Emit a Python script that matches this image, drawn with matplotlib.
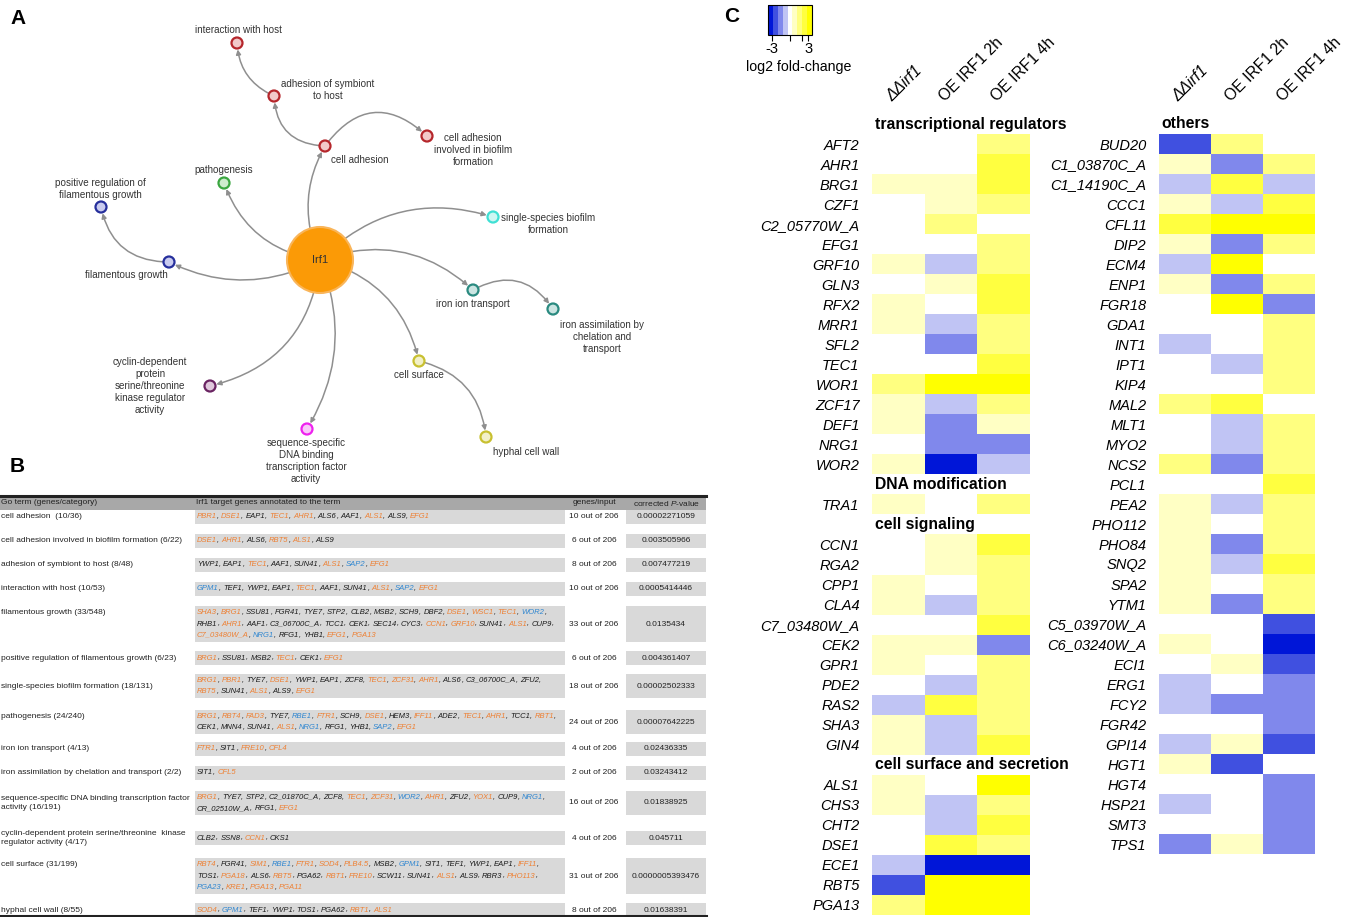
import numpy as np
import matplotlib
matplotlib.use("Agg")
import matplotlib.pyplot as plt
from matplotlib import font_manager
from matplotlib.colors import ListedColormap, BoundaryNorm
from matplotlib.cm import ScalarMappable
from matplotlib.patches import Circle, FancyArrowPatch, Rectangle

plt.rcParams['font.family'] = ['Liberation Sans', 'DejaVu Sans']
plt.rcParams['mathtext.fontset'] = 'custom'
plt.rcParams['mathtext.it'] = 'Liberation Sans:italic'
plt.rcParams['mathtext.rm'] = 'Liberation Sans'

W, H = 1345, 917

# ---------------- data: GO network (panel A)
go_edges = [
    ("Irf1", "cell adhesion"),
    ("cell adhesion", "adhesion of symbiont\nto host"),
    ("adhesion of symbiont\nto host", "interaction with host"),
    ("cell adhesion", "cell adhesion\ninvolved in biofilm\nformation"),
    ("Irf1", "pathogenesis"),
    ("Irf1", "filamentous growth"),
    ("filamentous growth", "positive regulation of\nfilamentous growth"),
    ("Irf1", "single-species biofilm\nformation"),
    ("Irf1", "iron ion transport"),
    ("iron ion transport", "iron assimilation by\nchelation and\ntransport"),
    ("Irf1", "cell surface"),
    ("cell surface", "hyphal cell wall"),
    ("Irf1", "cyclin-dependent\nprotein\nserine/threonine\nkinase regulator\nactivity"),
    ("Irf1", "sequence-specific\nDNA binding\ntranscription factor\nactivity"),
]

# ---------------- data: GO table (panel B)
go_terms = [
    "cell adhesion  (10/36)",
    "cell adhesion involved in biofilm formation (6/22)",
    "adhesion of symbiont to host (8/48)",
    "interaction with host (10/53)",
    "filamentous growth (33/548)",
    "positive regulation of filamentous growth (6/23)",
    "single-species biofilm formation (18/131)",
    "pathogenesis (24/240)",
    "iron ion transport (4/13)",
    "iron assimilation by chelation and transport (2/2)",
    "sequence-specific DNA binding transcription factor\nactivity (16/191)",
    "cyclin-dependent protein serine/threonine  kinase\nregulator activity (4/17)",
    "cell surface (31/199)",
    "hyphal cell wall (8/55)",
]
go_genes = [
    ["PBR1, DSE1, EAP1, TEC1, AHR1, ALS6, AAF1, ALS1, ALS9, EFG1"],
    ["DSE1, AHR1, ALS6, RBT5, ALS1, ALS9"],
    ["YWP1, EAP1, TEC1, AAF1, SUN41, ALS1, SAP2, EFG1"],
    ["GPM1, TEF1, YWP1, EAP1, TEC1, AAF1, SUN41, ALS1, SAP2, EFG1"],
    ["SHA3, BRG1, SSU81, FGR41, TYE7, STP2, CLB2, MSB2, SCH9, DBF2, DSE1, WSC1, TEC1, WOR2,",
     "RHB1, AHR1, AAF1, C3_06700C_A, TCC1, CEK1, SEC14, CYC3, CCN1, GRF10, SUN41, ALS1, CUP9,",
     "C7_03480W_A, NRG1, RFG1, YHB1, EFG1, PGA13"],
    ["BRG1, SSU81, MSB2, TEC1, CEK1, EFG1"],
    ["BRG1, PBR1, TYE7, DSE1, YWP1, EAP1, ZCF8, TEC1, ZCF31, AHR1, ALS6, C3_06700C_A, ZFU2,",
     "RBT5, SUN41, ALS1, ALS9, EFG1"],
    ["BRG1, RBT4, FAD3, TYE7, RBE1, FTR1, SCH9, DSE1, HEM3, IFF11, ADE2, TEC1, AHR1, TCC1, RBT1,",
     "CEK1, MNN4, SUN41, ALS1, NRG1, RFG1, YHB1, SAP2, EFG1"],
    ["FTR1, SIT1, FRE10, CFL4"],
    ["SIT1, CFL5"],
    ["BRG1, TYE7, STP2, C2_01870C_A, ZCF8, TEC1, ZCF31, WOR2, AHR1, ZFU2, YOX1, CUP9, NRG1,",
     "CR_02510W_A, RFG1, EFG1"],
    ["CLB2, SSN8, CCN1, CKS1"],
    ["RBT4, FGR41, SIM1, RBE1, FTR1, SOD4, PLB4.5, MSB2, GPM1, SIT1, TEF1, YWP1, EAP1, IFF11,",
     "TOS1, PGA18, ALS6, RBT5, PGA62, RBT1, FRE10, SCW11, SUN41, ALS1, ALS9, RBR3, PHO113,",
     "PGA23, KRE1, PGA13, PGA11"],
    ["SOD4, GPM1, TEF1, YWP1, TOS1, PGA62, RBT1, ALS1"],
]
go_hits = [10, 6, 8, 10, 33, 6, 18, 24, 4, 2, 16, 4, 31, 8]
go_input = 206
go_pvals = ["0.00002271059", "0.003505966", "0.007477219", "0.0005414446", "0.0135434",
            "0.004361407", "0.00002502333", "0.00007642225", "0.02436335", "0.03243412",
            "0.01838925", "0.045711", "0.0000005393476", "0.01638391"]
up_genes = {"PBR1", "DSE1", "TEC1", "AHR1", "ALS1", "EFG1", "RBT5", "SHA3", "BRG1", "WSC1",
            "CCN1", "GRF10", "C7_03480W_A", "PGA13", "ZCF31", "RBT4", "FAD3", "FTR1", "IFF11",
            "RBT1", "FRE10", "CFL4", "CFL5", "YOX1", "SIM1", "SOD4", "PLB4.5", "PGA18",
            "PHO113", "KRE1", "PGA11"}
down_genes = {"GPM1", "SAP2", "WOR2", "NRG1", "RBE1", "PGA23"}

# ---------------- data: heatmap (panel C), log2 fold-change
conditions = ["ΔΔirf1", "OE IRF1 2h", "OE IRF1 4h"]
tr_genes = ["AFT2", "AHR1", "BRG1", "CZF1", "C2_05770W_A", "EFG1", "GRF10", "GLN3", "RFX2",
            "MRR1", "SFL2", "TEC1", "WOR1", "ZCF17", "DEF1", "NRG1", "WOR2"]
tr_fc = [[0, 0, 1.6], [0, 0, 2.4], [0.8, 0.8, 2.4], [0, 0.8, 1.6], [0, 1.6, 0],
         [0, 0, 1.6], [0.8, -0.8, 1.6], [0, 0.8, 2.4], [0.8, 0, 2.4], [0.8, -0.8, 1.6],
         [0, -1.6, 1.6], [0, 0, 2.4], [1.6, 3.2, 3.2], [0.8, -0.8, 1.6], [0.8, -1.6, 0.8],
         [0, -1.6, -1.6], [0.8, -3.2, -0.8]]
dna_genes = ["TRA1"]
dna_fc = [[0.8, 0, 1.6]]
sig_genes = ["CCN1", "RGA2", "CPP1", "CLA4", "C7_03480W_A", "CEK2", "GPR1", "PDE2", "RAS2",
             "SHA3", "GIN4"]
sig_fc = [[0, 0.8, 2.4], [0, 0.8, 1.6], [0.8, 0, 1.6], [0.8, -0.8, 1.6], [0, 0, 2.4],
          [0.8, 0.8, -1.6], [0.8, 0, 1.6], [0, -0.8, 1.6], [-0.8, 2.4, 1.6], [0.8, -0.8, 1.6],
          [0.8, -0.8, 2.4]]
surf_genes = ["ALS1", "CHS3", "CHT2", "DSE1", "ECE1", "RBT5", "PGA13"]
surf_fc = [[0.8, 0, 3.2], [0.8, -0.8, 1.6], [0, -0.8, 2.4], [0, 2.4, 1.6],
           [-0.8, -3.2, -3.2], [-2.4, 3.2, 3.2], [1.6, 3.2, 3.2]]
oth_genes = ["BUD20", "C1_03870C_A", "C1_14190C_A", "CCC1", "CFL11", "DIP2", "ECM4", "ENP1",
             "FGR18", "GDA1", "INT1", "IPT1", "KIP4", "MAL2", "MLT1", "MYO2", "NCS2", "PCL1",
             "PEA2", "PHO112", "PHO84", "SNQ2", "SPA2", "YTM1", "C5_03970W_A", "C6_03240W_A",
             "ECI1", "ERG1", "FCY2", "FGR42", "GPI14", "HGT1", "HGT4", "HSP21", "SMT3", "TPS1"]
oth_fc = [[-2.4, 1.6, 0], [0.8, -1.6, 1.6], [-0.8, 2.4, -0.8], [0.8, -0.8, 2.4],
          [2.4, 3.2, 3.2], [0.8, -1.6, 1.6], [-0.8, 3.2, 0], [0.8, -1.6, 1.6],
          [0, 3.2, -1.6], [0, 0, 1.6], [-0.8, 0, 1.6], [0, -0.8, 1.6], [0, 0, 1.6],
          [1.6, 2.4, 0], [0, -0.8, 1.6], [0, -0.8, 1.6], [1.6, -1.6, 1.6], [0, 0, 2.4],
          [0.8, -0.8, 1.6], [0.8, 0, 1.6], [0.8, -1.6, 1.6], [0.8, -0.8, 2.4], [0.8, 0, 1.6],
          [0.8, -1.6, 1.6], [0, 0, -2.4], [0.8, 0, -3.2], [0, 0.8, -2.4], [-0.8, 0, -1.6],
          [-0.8, -1.6, -1.6], [0, 0, -1.6], [-0.8, 0.8, -2.4], [0.8, -2.4, 0], [0, 0, -1.6],
          [-0.8, 0, -1.6], [0, 0, -1.6], [-1.6, 0.8, -1.6]]

# ---------------- layout (pixels, origin top-left)
node_xy = {
    "Irf1": (320, 260),
    "interaction with host": (237, 43),
    "adhesion of symbiont\nto host": (274, 96),
    "cell adhesion": (325, 146),
    "cell adhesion\ninvolved in biofilm\nformation": (427, 136),
    "pathogenesis": (224, 183),
    "positive regulation of\nfilamentous growth": (101, 207),
    "filamentous growth": (169, 262),
    "single-species biofilm\nformation": (493, 217),
    "iron ion transport": (473, 290),
    "iron assimilation by\nchelation and\ntransport": (553, 309),
    "cell surface": (419, 361),
    "hyphal cell wall": (486, 437),
    "cyclin-dependent\nprotein\nserine/threonine\nkinase regulator\nactivity": (210, 386),
    "sequence-specific\nDNA binding\ntranscription factor\nactivity": (307, 429),
}
label_xy = {
    "interaction with host": (238, 30, 'center'),
    "adhesion of symbiont\nto host": (281, 90, 'left'),
    "cell adhesion": (331, 160, 'left'),
    "cell adhesion\ninvolved in biofilm\nformation": (473, 150, 'center'),
    "pathogenesis": (224, 170, 'center'),
    "positive regulation of\nfilamentous growth": (100, 189, 'center'),
    "filamentous growth": (126, 275, 'center'),
    "single-species biofilm\nformation": (548, 224, 'center'),
    "iron ion transport": (473, 304, 'center'),
    "iron assimilation by\nchelation and\ntransport": (602, 337, 'center'),
    "cell surface": (419, 375, 'center'),
    "hyphal cell wall": (526, 452, 'center'),
    "cyclin-dependent\nprotein\nserine/threonine\nkinase regulator\nactivity": (150, 386, 'center'),
    "sequence-specific\nDNA binding\ntranscription factor\nactivity": (306, 461, 'center'),
}
edge_rad = [-0.25, -0.45, -0.3, -0.55, -0.3, -0.25, -0.4, -0.3, -0.3, -0.45, -0.3, -0.35, -0.35, -0.25]
group_col = {
    "red": ('#b5262b', '#f2c9c9'), "green": ('#3aa640', '#cdeccd'),
    "navy": ('#262f9c', '#c9cbef'), "cyan": ('#3fe0d4', '#cdf7f3'),
    "teal": ('#2a8a80', '#cbe5e2'), "olive": ('#c8c030', '#f2f0c8'),
    "purple": ('#6a2462', '#e0c8dc'), "magenta": ('#ee22ee', '#f9c8f9'),
}
node_group = ["red", "red", "red", "red", "green", "navy", "navy", "cyan", "teal", "teal",
              "olive", "olive", "purple", "magenta"]
row_y = [517, 541, 565, 589, 624, 658, 686, 722, 749, 773, 803, 838, 876, 910]
label_top = [False, False, False, False, True, False, False, True, False, False, False, False, True, False]
LS = 11.3

heat_colors = ['#0016d8', '#4050e0', '#8088ec', '#c0c4f4', '#ffffff',
               '#ffffc4', '#ffff80', '#ffff40', '#ffff00']
cmap = ListedColormap(heat_colors)
norm = BoundaryNorm(np.linspace(-3.6, 3.6, 10), cmap.N)

# a condensed face for the table if one is installed (closer to the original narrow font)
installed = {f.name for f in font_manager.fontManager.ttflist}
if 'Liberation Sans Narrow' in installed:
    TAB_FONT, FS, GFS = 'Liberation Sans Narrow', 7.3, 6.7
else:
    TAB_FONT, FS, GFS = 'Liberation Sans', 6.0, 5.5


def rect(x0, y0, x1, y1):
    return [x0 / W, 1 - y1 / H, (x1 - x0) / W, (y1 - y0) / H]


fig = plt.figure(figsize=(W / 100, H / 100), dpi=100)
ax0 = fig.add_axes([0, 0, 1, 1])
ax0.set_xlim(0, W)
ax0.set_ylim(H, 0)
ax0.axis('off')
renderer = fig.canvas.get_renderer()

# panel letters
for letter, (x, y) in zip("ABC", [(10, 18), (10, 467), (724, 16)]):
    ax0.text(x, y, letter, fontsize=15, fontweight='bold', va='center', ha='left')

# ---------------- panel A
child_names = [b for a, b in go_edges]
for (a, b), rad in zip(go_edges, edge_rad):
    sA = 33 if a == "Irf1" else 6
    arr = FancyArrowPatch(node_xy[a], node_xy[b], connectionstyle=f"arc3,rad={rad}",
                          arrowstyle='-|>', mutation_scale=7, color='#8f8f8f', lw=1.1,
                          shrinkA=sA * 0.72, shrinkB=6.5 * 0.72, zorder=1)
    ax0.add_patch(arr)

ax0.add_patch(Circle(node_xy["Irf1"], 33, facecolor='#fb9a06', edgecolor='#f9b55a', lw=1.5, zorder=3))
ax0.text(*node_xy["Irf1"], "Irf1", fontsize=8, ha='center', va='center', color='#333333', zorder=4)
for name, grp in zip(child_names, node_group):
    ec, fc = group_col[grp]
    ax0.add_patch(Circle(node_xy[name], 5.5, facecolor=fc, edgecolor=ec, lw=1.6, zorder=3))
    lx, ly, ha = label_xy[name]
    ax0.text(lx, ly, name, fontsize=7.1, ha=ha, va='center', multialignment='center',
             color='#333333', linespacing=1.25, zorder=4)

# ---------------- panel B
ax0.add_patch(Rectangle((0, 496), 706, 14, facecolor='#a8a8a8', edgecolor='none'))
ax0.plot([0, 706], [495.5, 495.5], color='#222222', lw=2.2)
ax0.plot([0, 706], [915.5, 915.5], color='#222222', lw=2.2)
hdr = dict(fontsize=FS, va='center', color='#222222', family=TAB_FONT)
ax0.text(1, 503, "Go term (genes/category)", **hdr)
ax0.text(196, 503, "Irf1 target genes annotated to the term", **hdr)
ax0.text(594, 503, "genes/input", ha='center', **hdr)
ax0.text(667, 503, "corrected $P$-value", ha='center', **hdr)

t1 = ax0.text(0, 0, "a a", fontsize=GFS, style='italic', family=TAB_FONT)
t2 = ax0.text(0, 0, "aa", fontsize=GFS, style='italic', family=TAB_FONT)
space_w = t1.get_window_extent(renderer).width - t2.get_window_extent(renderer).width
t1.remove()
t2.remove()


def gene_line(x, y, line):
    toks = [t.strip() for t in line.split(",")]
    trailing = toks[-1] == ""
    if trailing:
        toks = toks[:-1]
    for k, g in enumerate(toks):
        col = '#ee8033' if g in up_genes else ('#2f86d0' if g in down_genes else '#1a1a1a')
        t = ax0.text(x, y, g, fontsize=GFS, style='italic', color=col, va='center', family=TAB_FONT)
        x += t.get_window_extent(renderer).width
        if k < len(toks) - 1 or trailing:
            t = ax0.text(x, y, ",", fontsize=GFS, style='italic', color='#1a1a1a', va='center',
                         family=TAB_FONT)
            x += t.get_window_extent(renderer).width + space_w


for i, term in enumerate(go_terms):
    y = row_y[i]
    lines = go_genes[i]
    n = len(lines)
    top = y - (n - 1) * LS / 2
    ax0.add_patch(Rectangle((195, y - n * LS / 2 - 1), 565 - 195, n * LS + 2,
                            facecolor='#d9d9d9', edgecolor='none'))
    ax0.add_patch(Rectangle((626, y - n * LS / 2 - 1), 706 - 626, n * LS + 2,
                            facecolor='#d9d9d9', edgecolor='none'))
    for k, line in enumerate(lines):
        gene_line(197, top + k * LS, line)
    ax0.text(1, top if label_top[i] else y, term, linespacing=1.3, **hdr)
    ax0.text(594, y, f"{go_hits[i]} out of {go_input}", ha='center', **hdr)
    ax0.text(666, y, go_pvals[i], ha='center', **hdr)


# ---------------- panel C
def draw_block(ax, sections):
    rows, labels, headers = [], [], []
    for title, genes, fc in sections:
        headers.append((len(rows), title))
        rows.append([np.nan] * 3)
        labels.append("")
        for g, v in zip(genes, fc):
            rows.append(v)
            labels.append(g)
    mat = np.ma.masked_invalid(np.array(rows, dtype=float))
    ax.imshow(mat, cmap=cmap, norm=norm, aspect='auto', interpolation='nearest')
    gi = [i for i, l in enumerate(labels) if l]
    ax.set_yticks(gi)
    ax.set_yticklabels([labels[i] for i in gi], fontstyle='italic', fontsize=10.5)
    ax.tick_params(length=0, pad=9)
    ax.set_xticks([])
    for s in ax.spines.values():
        s.set_visible(False)
    for r, t in headers:
        ax.text(-0.45, r, t, fontweight='bold', fontsize=11.3, va='center', ha='left')
    for j, c in enumerate(conditions):
        ax.text(j - 0.12, -1.1, c, rotation=45, rotation_mode='anchor', ha='left',
                va='baseline', fontsize=11.3, fontstyle='italic' if j == 0 else 'normal')


axL = fig.add_axes(rect(872, 114, 1030, 915))
draw_block(axL, [("transcriptional regulators", tr_genes, tr_fc),
                 ("DNA modification", dna_genes, dna_fc),
                 ("cell signaling", sig_genes, sig_fc),
                 ("cell surface and secretion", surf_genes, surf_fc)])
axR = fig.add_axes(rect(1159, 114, 1315, 854))
draw_block(axR, [("others", oth_genes, oth_fc)])

cax = fig.add_axes(rect(768, 5, 812, 35))
cb = fig.colorbar(ScalarMappable(norm=norm, cmap=cmap), cax=cax, orientation='horizontal',
                  ticks=[-3, 0, 1.9, 3])
cb.ax.minorticks_off()
cb.ax.set_xticklabels(['-3', '', '', '3'], fontsize=10.5)
cb.ax.tick_params(length=4, width=0.8, pad=1)
cb.outline.set_linewidth(0.8)
ax0.text(799, 67, "log2 fold-change", fontsize=10.2, ha='center', va='center')

fig.savefig("out.png", dpi=100)
